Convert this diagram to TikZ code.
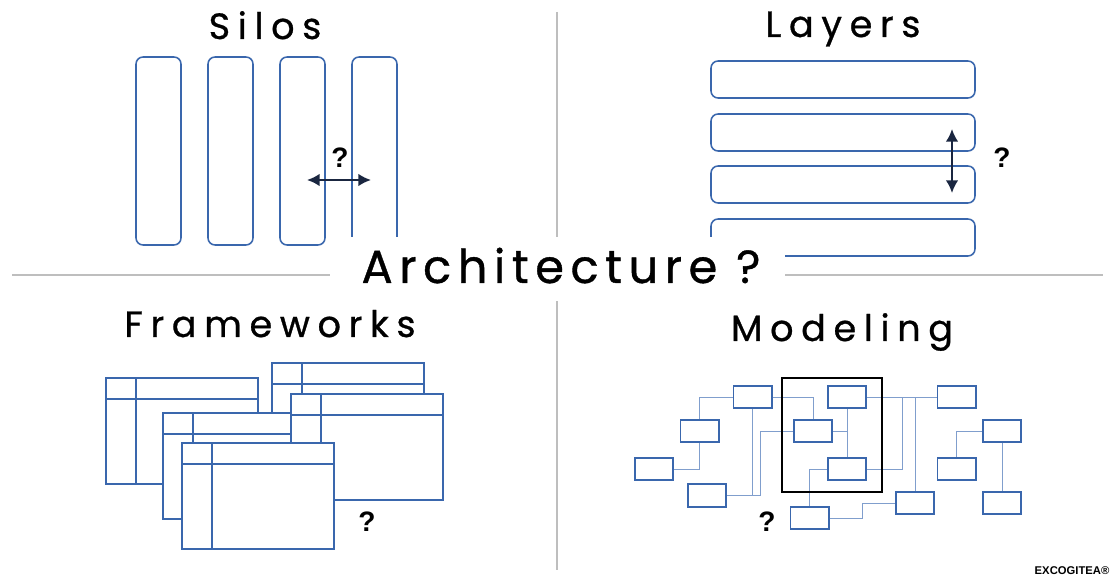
\documentclass[tikz,border=0pt]{standalone}
\usepackage{fontspec}
\setmainfont{Liberation Sans}
\newfontfamily\headfont[LetterSpace=21, FakeBold=0.8]{Poppins}
\newfontfamily\archfont[LetterSpace=14, FakeBold=0.8]{Poppins}
\definecolor{boxblue}{RGB}{58, 103, 173}
\definecolor{wireblue}{RGB}{128, 158, 205}
\definecolor{arrownavy}{RGB}{26, 38, 64}
\definecolor{dividergray}{RGB}{190, 190, 190}
\usetikzlibrary{arrows.meta, positioning, calc}
\tikzstyle{heading} = [anchor=base, font=\headfont\fontsize{26}{30}\selectfont]
\tikzstyle{query} = [font=\bfseries\fontsize{20}{23}\selectfont]
\tikzstyle{silo} = [boxblue, line width=1.1pt, rounded corners=5pt]
\tikzstyle{window} = [boxblue, line width=1.4pt, fill=white]
\tikzstyle{mbox} = [draw=boxblue, line width=1.4pt, minimum width=0.95cm, minimum height=0.56cm, inner sep=0pt]
\tikzstyle{wire} = [wireblue, line width=0.7pt]
\tikzstyle{both} = [<->, >={Latex[length=9pt, width=9pt]}, arrownavy, line width=1.5pt]

\begin{document}
\begin{tikzpicture}[x=0.025cm, y=-0.025cm]
        \useasboundingbox (0,0) rectangle (1115,582);

        % Dividers
        \draw[dividergray, line width=0.8pt] (557,12) -- (557,570);
        \draw[dividergray, line width=0.8pt] (12,275) -- (1103,275);

        % Silos
        \node[heading] (silohead) at (265,39) {Silos};
        \foreach \x in {136,208,280,352}
            \draw[silo] (\x,57) rectangle ++(45,188);
        \coordinate (sl) at (307,180);
        \coordinate (sr) at (371,180);
        \draw[both] (sl) -- (sr);
        \node[query] (siloq) at (340,158) {?};

        % Layers
        \node[heading] (layerhead) at (843,37) {Layers};
        \foreach \y in {61,114,166,219}
            \draw[silo] (711,\y) rectangle (975,\y+37);
        \coordinate (lt) at (952,129);
        \coordinate (lb) at (952,193);
        \draw[both] (lt) -- (lb);
        \node[query] (layerq) at (1002,158) {?};

        % Frameworks
        \node[heading] (framehead) at (270,337) {Frameworks};
        \foreach \x/\y in {106/378, 272/363, 163/413, 291/394, 182/443} {
            \filldraw[window] (\x,\y) rectangle ++(152,106);
            \draw[window] (\x,\y+21) -- ++(152,0);
            \draw[window] (\x+30,\y) -- ++(0,106);
        }
        \node[query] (frameq) at (367,522) {?};

        % Modeling
        \node[heading] (modelhead) at (842,341) {Modeling};
        \node[mbox] (m1) at (752.5,397) {};
        \node[mbox] (m2) at (699.5,431) {};
        \node[mbox] (m3) at (654,469) {};
        \node[mbox] (m4) at (707,495.5) {};
        \node[mbox] (m5) at (847,397) {};
        \node[mbox] (m6) at (813,431) {};
        \node[mbox] (m7) at (847,469) {};
        \node[mbox] (m8) at (809.5,518) {};
        \node[mbox] (m9) at (915,503) {};
        \node[mbox] (m10) at (956.5,397) {};
        \node[mbox] (m11) at (1002,431) {};
        \node[mbox] (m12) at (956.5,469) {};
        \node[mbox] (m13) at (1002,503) {};
        \coordinate (j4) at (760,495.5);
        \coordinate (j8) at (862,503);
        \coordinate (t1) at (902,397);
        \coordinate (t2) at (915,397);
        \draw[wire] (m1.west) -| (m2.north);
        \draw[wire] (m2.south) |- (m3.east);
        \draw[wire] (m1.south) |- (m4.east);
        \draw[wire] (m4.east) -- (j4) |- (m6.west);
        \draw[wire] (m1.east) -| (m6.north);
        \draw[wire] (m5.south) -- (m7.north);
        \draw[wire] (m6.east) -- (m6.east -| m5.south);
        \draw[wire] (m7.west) -| (m8.north);
        \draw[wire] (m8.east) -| (j8) -- (m9.west);
        \draw[wire] (m5.east) -- (m10.west);
        \draw[wire] (m7.east) -| (t1);
        \draw[wire] (t2) -- (m9.north);
        \draw[wire] (m11.west) -| (m12.north);
        \draw[wire] (m11.south) -- (m13.north);
        \draw[black, line width=2.1pt] (782,378) rectangle (882,492);
        \node[query] (modelq) at (767,522) {?};

        % Title
        \fill[white] (330,237) rectangle (785,301);
        \node[anchor=base, font=\archfont\fontsize{33}{38}\selectfont] (arch) at (561,283) {Architecture ?};

        \node[font=\bfseries\fontsize{8}{9}\selectfont] (brand) at (1072,571) {EXCOGITEA®};
    \end{tikzpicture}
\end{document}
